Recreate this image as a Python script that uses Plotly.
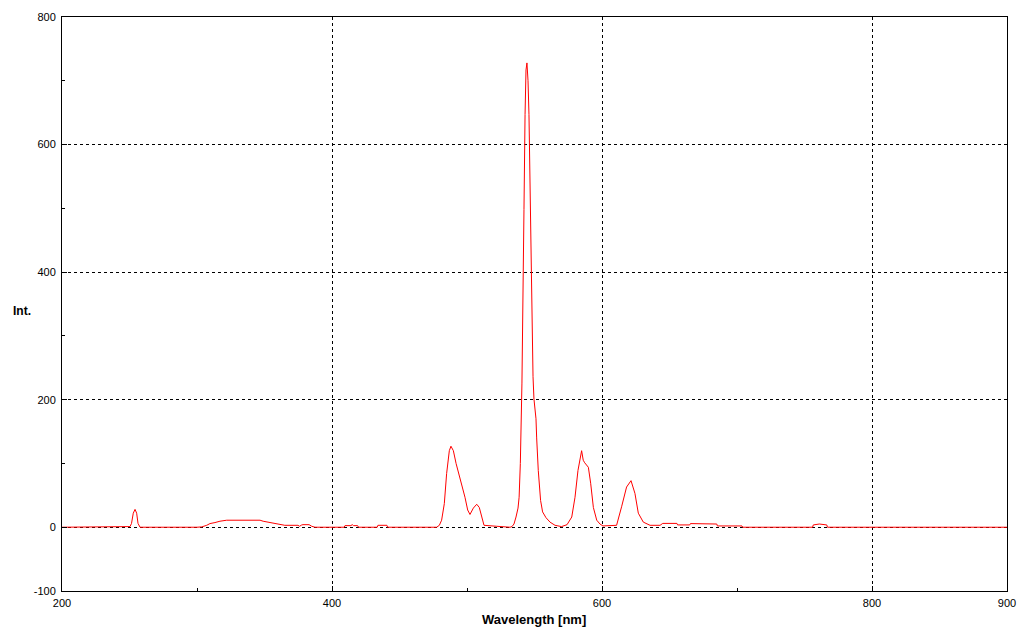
import plotly.graph_objects as go

# Spectrum (wavelength in nm, intensity)
wavelength = [200, 250, 250.4, 251.5, 252.8, 254.1, 255.3, 256.3, 257.8,
              300, 303.5, 307.2, 309.6, 313.3, 317, 322, 346.7, 349, 352.6, 356.3, 360, 365,
              374.8, 376, 377.5, 378.5, 383, 385, 387.4,
              409, 409.6, 414, 415, 416, 419, 419.6, 433.5, 434, 440.7, 441.2,
              477.5, 479.5, 481.2, 483.2, 484.9, 486.9, 488.1, 489.9, 491.9, 494.3, 496.8,
              498.5, 500.5, 502.2, 504.7, 507.2, 509.1, 510.9, 512.6, 522, 531.9,
              533.3, 534.8, 536.3, 537.8, 538.6, 539.5, 540.7, 541.5, 542.2, 543.0, 543.7,
              544.4, 545.2, 545.9, 546.7, 547.4, 548.1, 548.9, 549.6, 550.4, 551.1, 551.6,
              552.8, 554.5, 556, 558.5, 561.5, 565.2, 570,
              574.1, 577.6, 580, 582.2, 584.9, 586.1, 587.2, 589.9, 591.6, 593.6, 596.1,
              598.5, 600.7, 605, 610.8, 614.5, 618.2, 621.5, 624.4, 626.9, 630.6, 635.6,
              643, 645, 655.5, 656, 665, 665.5, 672, 672.5, 685, 685.5, 703.7, 704.2,
              756, 756.5, 761, 766.5, 767, 900]
intensity = [0, 0, 1, 6, 22, 28, 22, 6, 0,
             0, 0.5, 3, 5.7, 7.3, 9.4, 11, 11, 9.4, 7.8, 5.7, 4.7, 3,
             3, 1.5, 3.5, 4, 4, 1.5, 0,
             0, 2.5, 2.5, 4, 2.5, 2.5, 0, 0, 3, 3, 0,
             0, 3, 11, 37, 84, 120, 127, 120, 100, 81, 61,
             47, 27, 20, 30, 36, 31, 16, 3, 1.5, 0,
             1, 5, 16, 30, 47, 100, 226, 340, 498, 647, 717,
             728, 700, 647, 545, 412, 312, 236, 201, 185, 170, 140,
             89, 42, 24, 15, 8, 3, 1,
             4, 16, 47, 89, 120, 105, 101, 94, 69, 31, 11,
             5, 2, 2, 3, 32, 63, 73, 53, 22, 8, 3,
             3, 6, 6, 3.6, 3.6, 5.7, 5.7, 5, 5, 2, 2, 0,
             0, 3.6, 5, 3.6, 0, 0]

x_ticks = [200, 400, 600, 800, 900]
y_ticks = [-100, 0, 200, 400, 600, 800]
minor_y = [-100, 0, 100, 200, 300, 400, 500, 600, 700, 800]
minor_x = [200, 300, 400, 500, 600, 700, 800, 900]

fig = go.Figure()
fig.add_trace(go.Scatter(x=wavelength, y=intensity, mode="lines",
                         line=dict(color="#ff0000", width=1), showlegend=False))

axis_common = dict(showline=True, linecolor="black", linewidth=1, mirror=True,
                   showgrid=True, gridcolor="black", gridwidth=1, griddash="3px,3px",
                   zeroline=False, ticks="inside", ticklen=5, tickcolor="black",
                   automargin=False,
                   tickfont=dict(family="Liberation Sans, Arial", size=11, color="black"))

fig.update_layout(
    width=1024, height=629,
    margin=dict(l=62, r=17, t=17, b=38, autoexpand=False),
    paper_bgcolor="white", plot_bgcolor="white",
    xaxis=dict(range=[200, 900], tickmode="array", tickvals=x_ticks,
               ticktext=[str(v) for v in x_ticks],
               minor=dict(tickmode="array", tickvals=minor_x, ticks="inside", ticklen=3,
                          tickcolor="black", showgrid=False),
               ticklabelstandoff=2, **axis_common),
    yaxis=dict(range=[-100, 800], tickmode="array", tickvals=y_ticks,
               ticktext=[str(v) for v in y_ticks],
               minor=dict(tickmode="array", tickvals=minor_y, ticks="inside", ticklen=3,
                          tickcolor="black", showgrid=False),
               ticklabelstandoff=3, **axis_common),
    annotations=[
        dict(text="<b>Int.</b>", x=22, y=311, xref="paper", yref="paper",
             showarrow=False, font=dict(family="Liberation Sans, Arial", size=12, color="black")),
        dict(text="<b>Wavelength [nm]</b>", x=534, y=619, xref="paper", yref="paper",
             showarrow=False, font=dict(family="Liberation Sans, Arial", size=13, color="black")),
    ],
)
# convert pixel positions of annotations to paper coords
pw, ph = 1024 - 62 - 17, 629 - 17 - 38
for a in fig.layout.annotations:
    px, py = a.x, a.y
    a.x = (px - 62) / pw
    a.y = 1 - (py - 17) / ph
    a.xanchor = "center"
    a.yanchor = "middle"

fig.write_html("out.html", config={"displayModeBar": False},
               post_script="document.body.style.margin='0';document.body.style.overflow='hidden';")
